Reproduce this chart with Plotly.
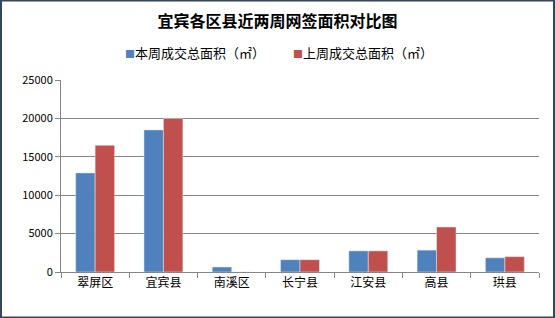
import plotly.graph_objects as go

categories = ["翠屏区", "宜宾县", "南溪区", "长宁县", "江安县", "高县", "珙县"]
this_week = [12900, 18500, 650, 1600, 2750, 2850, 1850]
last_week = [16500, 20000, 0, 1600, 2750, 5850, 2000]
series_names = ["本周成交总面积（㎡）", "上周成交总面积（㎡）"]
colors = ["#4F81BD", "#C0504D"]
y_ticks = [0, 5000, 10000, 15000, 20000, 25000]

W, H = 555, 318
ml, mr, mt, mb = 61, 16, 80, 46
pw, ph = W - ml - mr, H - mt - mb

font = "Noto Sans CJK SC, SimSun, sans-serif"

fig = go.Figure()
fig.add_bar(x=categories, y=this_week, name=series_names[0], marker_color=colors[0])
fig.add_bar(x=categories, y=last_week, name=series_names[1], marker_color=colors[1])

fig.update_layout(
    width=W, height=H,
    margin=dict(l=ml, r=mr, t=mt, b=mb),
    paper_bgcolor="white", plot_bgcolor="white",
    barmode="group", bargap=0.43, bargroupgap=0,
    font=dict(family=font, color="#000", size=11),
    title=dict(text="<b>宜宾各区县近两周网签面积对比图</b>", x=0.5, xanchor="center",
               y=1 - 21 / H, yanchor="middle", font=dict(size=16, family=font)),
    showlegend=False,
)
# legend drawn as annotations (compact Excel-style legend)
leg_x = [195, 363]
for name, c, lx in zip(series_names, colors, leg_x):
    fig.add_annotation(xref="paper", yref="paper", x=(lx - ml) / pw, y=1 + 28 / ph,
                       xanchor="center", yanchor="middle", showarrow=False,
                       text=f"<span style='color:{c};font-size:10px'>■</span>{name}",
                       font=dict(size=13, family=font, color="#000"))

fig.update_xaxes(showline=True, linecolor="#868686", linewidth=1,
                 ticks="outside", tickson="boundaries", ticklen=5, tickcolor="#868686",
                 tickfont=dict(size=12, family=font), showgrid=False)
fig.update_yaxes(range=[0, 25000], tickvals=y_ticks, tickformat="d", showline=True,
                 linecolor="#868686", linewidth=1, ticks="outside", ticklen=5,
                 tickcolor="#868686", showgrid=True, gridcolor="#868686", gridwidth=1,
                 zeroline=False, tickfont=dict(size=11, family=font))

fig.add_shape(type="rect", xref="paper", yref="paper",
              x0=-ml / pw + 1 / pw, x1=1 + mr / pw - 1 / pw,
              y0=-mb / ph + 0.5 / ph, y1=1 + mt / ph - 0.5 / ph,
              line=dict(color="#33475a", width=2), layer="above")

fig.write_html("out.html")
